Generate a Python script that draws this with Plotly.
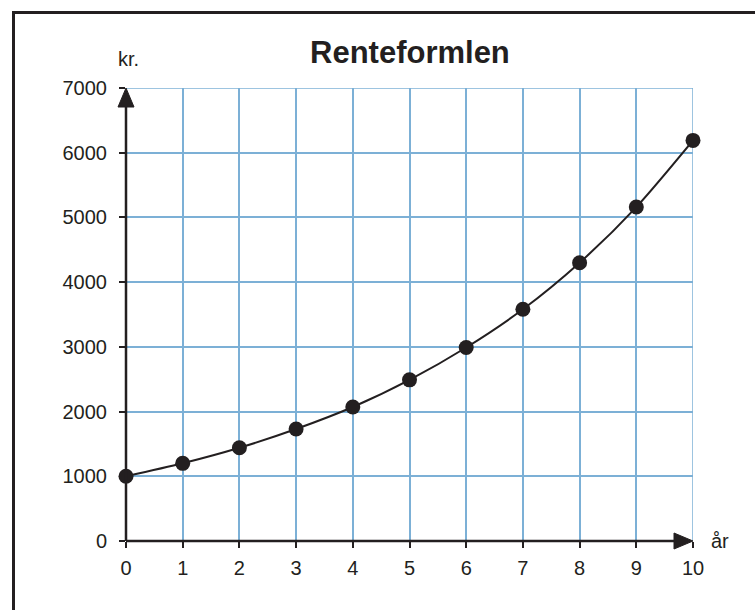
import plotly.graph_objects as go

# Data
years = [0, 1, 2, 3, 4, 5, 6, 7, 8, 9, 10]
amounts = [1000, 1200, 1440, 1730, 2070, 2490, 2990, 3580, 4300, 5160, 6190]
x_ticks = [0, 1, 2, 3, 4, 5, 6, 7, 8, 9, 10]
y_ticks = [0, 1000, 2000, 3000, 4000, 5000, 6000, 7000]
title_text = "Renteformlen"
y_unit = "kr."
x_unit = "år"

W, H = 755, 610
L, R, T, B = 126, 62, 88, 69
PW, PH = W - L - R, H - T - B
X_MAX, Y_MAX = 10, 7000

def px_x(p):
    return (p - L) / PW

def px_y(p):
    return (H - B - p) / PH

def dx(p):
    return p / PW

def dy(p):
    return p / PH

INK = "#231f20"
GRID = "#7cb0d6"
FONT = "Liberation Sans, Arial, sans-serif"

fig = go.Figure()
fig.add_trace(go.Scatter(
    x=years, y=amounts, mode="lines+markers",
    line=dict(color=INK, width=2, shape="spline", smoothing=0.8),
    marker=dict(color=INK, size=15),
    cliponaxis=False,
    hoverinfo="skip", showlegend=False,
))

fig.update_layout(
    width=W, height=H,
    margin=dict(l=L, r=R, t=T, b=B, pad=0),
    paper_bgcolor="white", plot_bgcolor="white",
    font=dict(family=FONT, color=INK, size=20),
    xaxis=dict(range=[0, X_MAX], tickvals=x_ticks, ticktext=[str(v) for v in x_ticks],
               showgrid=True, gridcolor=GRID, gridwidth=1.5, zeroline=False,
               showline=False, ticks="outside", ticklen=6, tickwidth=2, tickcolor=INK,
               tickfont=dict(size=20, color=INK, family=FONT), ticklabelstandoff=3,
               fixedrange=True),
    yaxis=dict(range=[0, Y_MAX], tickvals=y_ticks, ticktext=[str(v) for v in y_ticks],
               showgrid=True, gridcolor=GRID, gridwidth=1.5, zeroline=False,
               showline=False, ticks="outside", ticklen=6, tickwidth=2, tickcolor=INK,
               tickfont=dict(size=20, color=INK, family=FONT), ticklabelstandoff=8,
               fixedrange=True),
)

shapes = []
# right and top grid boundary lines
shapes.append(dict(type="line", xref="x", yref="y", x0=X_MAX, x1=X_MAX, y0=0, y1=Y_MAX,
                   line=dict(color=GRID, width=1.5), layer="below"))
shapes.append(dict(type="line", xref="x", yref="y", x0=0, x1=X_MAX, y0=Y_MAX, y1=Y_MAX,
                   line=dict(color=GRID, width=1.5), layer="below"))
# axes lines (paper refs so they are not clipped)
shapes.append(dict(type="line", xref="paper", yref="paper", x0=0, x1=1 - dx(10), y0=0, y1=0,
                   line=dict(color=INK, width=2.5), layer="above"))
shapes.append(dict(type="line", xref="paper", yref="paper", x0=0, x1=0, y0=0, y1=1 - dy(10),
                   line=dict(color=INK, width=2.5), layer="above"))
# arrowheads
ah_len, ah_half = 19, 8
shapes.append(dict(type="path", xref="paper", yref="paper",
                   path=f"M1,0 L{1 - dx(ah_len)},{dy(ah_half)} L{1 - dx(ah_len)},{-dy(ah_half)} Z",
                   fillcolor=INK, line=dict(color=INK, width=1), layer="above"))
shapes.append(dict(type="path", xref="paper", yref="paper",
                   path=f"M0,1 L{-dx(ah_half)},{1 - dy(ah_len)} L{dx(ah_half)},{1 - dy(ah_len)} Z",
                   fillcolor=INK, line=dict(color=INK, width=1), layer="above"))
# outer frame (top and left only visible)
fx = px_x(13.5)
fy = px_y(12.5)
shapes.append(dict(type="path", xref="paper", yref="paper",
                   path=f"M{fx},{px_y(620)} L{fx},{fy} L{px_x(770)},{fy}",
                   line=dict(color=INK, width=3)))
fig.update_layout(shapes=shapes)

annotations = [
    dict(text=f"<b>{title_text}</b>", xref="paper", yref="paper", x=0.5, y=px_y(52),
         xanchor="center", yanchor="middle", showarrow=False,
         font=dict(size=31, color=INK, family=FONT)),
    dict(text=y_unit, xref="paper", yref="paper", x=px_x(128), y=px_y(59),
         xanchor="center", yanchor="middle", showarrow=False,
         font=dict(size=20, color=INK, family=FONT)),
    dict(text=x_unit, xref="paper", yref="paper", x=px_x(720), y=px_y(541),
         xanchor="center", yanchor="middle", showarrow=False,
         font=dict(size=20, color=INK, family=FONT)),
]
fig.update_layout(annotations=annotations)

fig.write_html("out.html", config={"displayModeBar": False},
               post_script="document.body.style.margin='0px';document.body.style.overflow='hidden';")
